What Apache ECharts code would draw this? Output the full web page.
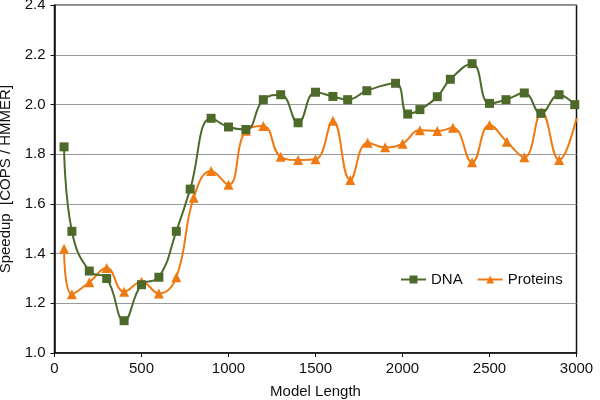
<!DOCTYPE html>
<html>
<head>
<meta charset="utf-8">
<script src="https://cdn.jsdelivr.net/npm/echarts@6/dist/echarts.min.js"></script>
<style>html,body{margin:0;padding:0;background:#fff}#c{width:600px;height:400px}</style>
</head>
<body>
<div id="c"></div>
<script>
const dnaX = [55,100,200,300,400,500,600,700,780,900,1000,1100,1200,1300,1400,1500,1600,1685,1795,1960,2030,2100,2200,2275,2400,2500,2595,2700,2795,2900,2990];
const dnaY = [1.83,1.49,1.33,1.30,1.13,1.275,1.305,1.49,1.66,1.945,1.91,1.90,2.02,2.04,1.927,2.05,2.033,2.02,2.056,2.086,1.962,1.98,2.032,2.102,2.165,2.005,2.02,2.047,1.965,2.04,2.0];
const protX = [55,100,200,300,400,500,600,700,800,900,1000,1100,1200,1300,1400,1500,1600,1700,1800,1900,2000,2100,2200,2290,2400,2500,2600,2700,2800,2900,3000];
const protY = [1.42,1.237,1.285,1.342,1.247,1.287,1.24,1.305,1.625,1.733,1.677,1.895,1.914,1.79,1.777,1.78,1.935,1.697,1.847,1.828,1.843,1.897,1.894,1.907,1.768,1.918,1.851,1.788,1.969,1.777,1.945];
const xTicks = ['0','500','1000','1500','2000','2500','3000'];
const yTicks = ['1.0','1.2','1.4','1.6','1.8','2.0','2.2','2.4'];

const FONT = 'Liberation Sans';
const FS = 15;
const dnaData = dnaX.map((x,i)=>[x,dnaY[i]]);
const protData = protX.map((x,i)=> i===protX.length-1 ? {value:[x,protY[i]], symbolSize:0} : [x,protY[i]]);

const chart = echarts.init(document.getElementById('c'), null, {renderer:'canvas'});
chart.setOption({
  animation:false,
  backgroundColor:'#fff',
  textStyle:{fontFamily:FONT},
  grid:{left:54.5, right:23.5, top:5.3, bottom:47, containLabel:false, outerBoundsMode:'none',
        show:true, borderColor:'#111', borderWidth:1.5, backgroundColor:'transparent'},
  legend:{
    left:395, top:267, itemWidth:25, itemHeight:10, itemGap:14,
    textStyle:{fontFamily:FONT, fontSize:FS, color:'#111'},
    data:['DNA','Proteins']
  },
  xAxis:{
    type:'value', min:0, max:3000, interval:500,
    name:'Model Length', nameLocation:'middle', nameGap:31,
    nameTextStyle:{fontFamily:FONT, fontSize:FS, color:'#111'},
    axisLine:{lineStyle:{color:'#111', width:1.5}},
    axisTick:{show:true, length:4, lineStyle:{color:'#111'}},
    axisLabel:{fontFamily:FONT, fontSize:FS, color:'#111', margin:8,
      formatter:(v)=>xTicks[Math.round(v/500)] || String(v)},
    splitLine:{show:false}
  },
  yAxis:{
    type:'value', min:1.0, max:2.4, interval:0.2,
    name:'Speedup  [COPS / HMMER]', nameLocation:'middle', nameGap:32,
    nameTextStyle:{fontFamily:FONT, fontSize:FS, color:'#111'},
    axisLine:{show:true, lineStyle:{color:'#111', width:1.5}},
    axisTick:{show:true, length:4, lineStyle:{color:'#111'}},
    axisLabel:{fontFamily:FONT, fontSize:FS, color:'#111', margin:9,
      formatter:(v)=>yTicks[Math.round((v-1)/0.2)] || v.toFixed(1)},
    splitLine:{show:true, lineStyle:{color:'#999', width:1.2}}
  },
  series:[
    {name:'DNA', type:'line', data:dnaData, smooth:0.45, symbol:'rect', symbolSize:9,
     itemStyle:{color:'#4E6A2A'}, lineStyle:{color:'#4E6A2A', width:2}, z:3},
    {name:'Proteins', type:'line', data:protData, smooth:0.45, symbol:'triangle', symbolSize:10,
     itemStyle:{color:'#EF7A12'}, lineStyle:{color:'#EF7A12', width:2}, z:2}
  ]
});
</script>
</body>
</html>
